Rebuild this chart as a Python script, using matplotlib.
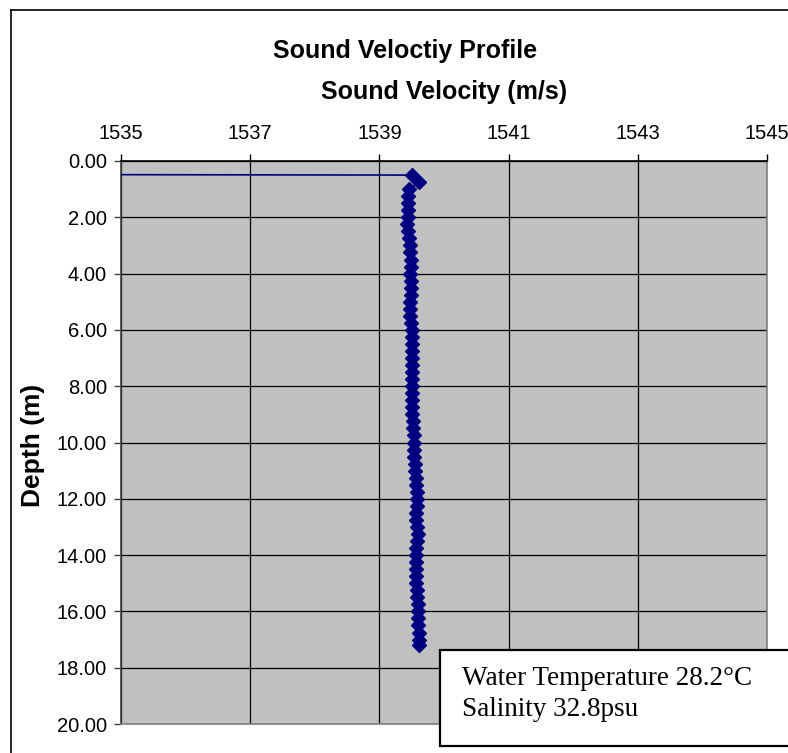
import matplotlib
matplotlib.use("Agg")
import matplotlib.pyplot as plt
from matplotlib.patches import Rectangle
from matplotlib.lines import Line2D

# CTD cast: depth (m) and sound velocity (m/s)
depth = [0.47, 0.50, 0.75, 1.00, 1.25, 1.50, 1.75, 2.00, 2.25, 2.50, 2.75,
         3.00, 3.25, 3.50, 3.75, 4.00, 4.25, 4.50, 4.75, 5.00, 5.25, 5.50,
         5.75, 6.00, 6.25, 6.50, 6.75, 7.00, 7.25, 7.50, 7.75, 8.00, 8.25,
         8.50, 8.75, 9.00, 9.25, 9.50, 9.75, 10.00, 10.25, 10.50, 10.75,
         11.00, 11.25, 11.50, 11.75, 12.00, 12.25, 12.50, 12.75, 13.00,
         13.25, 13.50, 13.75, 14.00, 14.25, 14.50, 14.75, 15.00, 15.25,
         15.50, 15.75, 16.00, 16.25, 16.50, 16.75, 17.00, 17.20]
velocity = [1530.00, 1539.50, 1539.62, 1539.46, 1539.45, 1539.44, 1539.45,
            1539.44, 1539.42, 1539.45, 1539.46, 1539.47, 1539.48, 1539.49,
            1539.49, 1539.48, 1539.49, 1539.49, 1539.49, 1539.48, 1539.47,
            1539.47, 1539.49, 1539.50, 1539.50, 1539.50, 1539.51, 1539.50,
            1539.50, 1539.51, 1539.51, 1539.51, 1539.50, 1539.51, 1539.51,
            1539.51, 1539.52, 1539.52, 1539.53, 1539.53, 1539.54, 1539.54,
            1539.55, 1539.55, 1539.56, 1539.57, 1539.58, 1539.58, 1539.58,
            1539.57, 1539.57, 1539.58, 1539.59, 1539.58, 1539.56, 1539.56,
            1539.56, 1539.56, 1539.56, 1539.57, 1539.58, 1539.58, 1539.59,
            1539.59, 1539.60, 1539.60, 1539.61, 1539.61, 1539.61]

x_ticks = [1535, 1537, 1539, 1541, 1543, 1545]
y_ticks = [0, 2, 4, 6, 8, 10, 12, 14, 16, 18, 20]
note_lines = ["Water Temperature 28.2\u00b0C", "Salinity 32.8psu"]

plt.rcParams['font.family'] = ['Liberation Sans', 'DejaVu Sans']

W, H = 788, 753
fig = plt.figure(figsize=(W / 100, H / 100), dpi=100)
fig.patch.set_facecolor('white')

ax = fig.add_axes([121 / W, 1 - 724 / H, (767 - 121) / W, (724 - 161) / H])
ax.set_facecolor('#C0C0C0')

ax.plot(velocity, depth, color='#000080', linewidth=1.2,
        marker='D', markersize=7, markerfacecolor='#000080',
        markeredgecolor='#000080', zorder=3)

ax.set_xlim(1535, 1545)
ax.set_ylim(20, 0)
ax.set_xticks(x_ticks)
ax.set_yticks(y_ticks)
ax.set_yticklabels(['%.2f' % v for v in y_ticks])
ax.xaxis.tick_top()
ax.xaxis.set_label_position('top')
ax.tick_params(axis='x', direction='out', length=5, width=1, pad=8,
               labelsize=14.5, color='black')
ax.tick_params(axis='y', direction='out', length=5, width=1, pad=5,
               labelsize=14.5, color='#404040')
ax.grid(True, color='black', linewidth=0.9)
ax.set_axisbelow(True)

ax.spines['top'].set_color('black')
ax.spines['left'].set_color('#404040')
for side in ('right', 'bottom'):
    ax.spines[side].set_color('#808080')
for s in ax.spines.values():
    s.set_linewidth(1.2)

ax.set_xlabel('Sound Velocity (m/s)', fontsize=18, fontweight='bold')
ax.xaxis.set_label_coords(0.5, 1 + (161 - 99) / 563)
ax.set_ylabel('Depth (m)', fontsize=19, fontweight='bold')
ax.yaxis.set_label_coords((45 - 121) / 646, (724 - 445) / 563)

fig.text(405 / W, 1 - 58 / H, 'Sound Veloctiy Profile', ha='center',
         va='baseline', fontsize=18, fontweight='bold')

# chart area border (left and top edges)
fig.add_artist(Line2D([11 / W, 11 / W], [0, 1 - 10 / H], color='black',
                      linewidth=1.2, transform=fig.transFigure))
fig.add_artist(Line2D([11 / W, 1], [1 - 10 / H, 1 - 10 / H], color='black',
                      linewidth=1.2, transform=fig.transFigure))

# annotation box
box = Rectangle((440 / W, 1 - 746 / H), 0.5, (746 - 650) / H,
                transform=fig.transFigure, facecolor='white',
                edgecolor='black', linewidth=1.6, zorder=5, clip_on=False)
fig.add_artist(box)
fig.text(462 / W, 1 - 685 / H, note_lines[0], fontsize=19.5,
         family='Liberation Serif', va='baseline', zorder=6)
fig.text(462 / W, 1 - 716 / H, note_lines[1], fontsize=19.5,
         family='Liberation Serif', va='baseline', zorder=6)

fig.savefig('out.png', dpi=100)
